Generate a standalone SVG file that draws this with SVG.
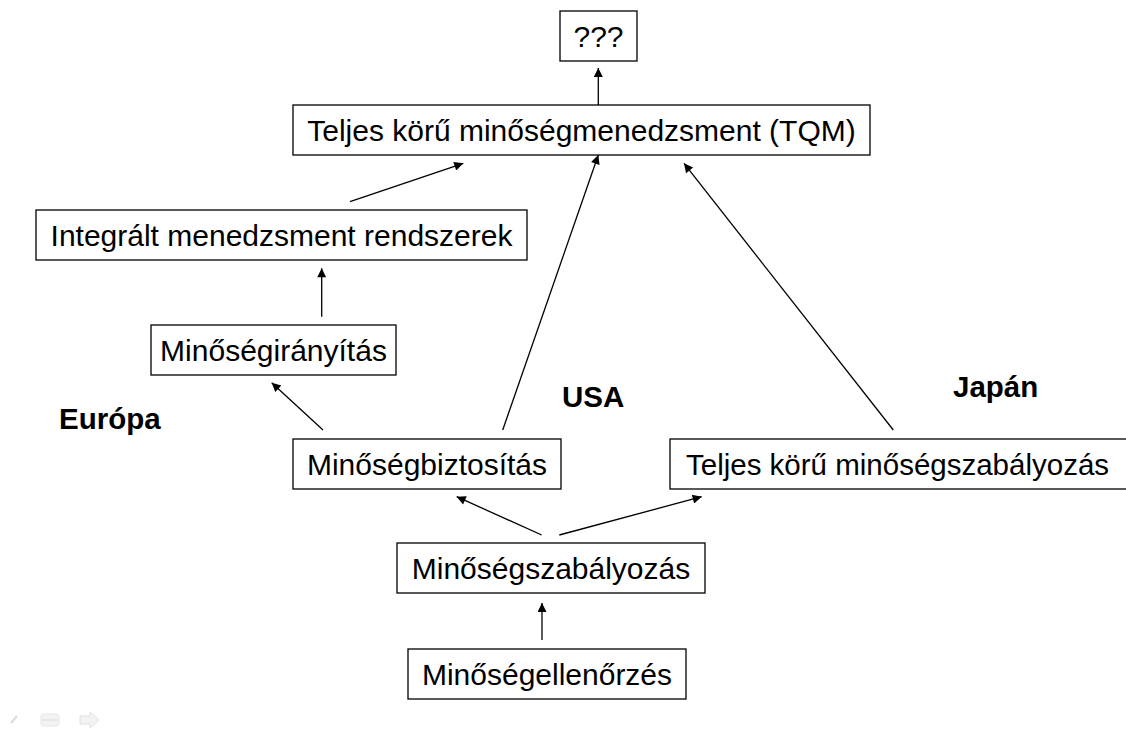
<svg xmlns="http://www.w3.org/2000/svg" width="1126" height="737" viewBox="0 0 1126 737">
<style>
.box{fill:#fff;stroke:#000;stroke-width:1.3}
.t{font-family:"Liberation Sans",Arial,sans-serif;font-size:30px;fill:#000}
.c{text-anchor:middle}
.lbl{font-family:"Liberation Sans",Arial,sans-serif;font-size:29.5px;font-weight:bold;fill:#000}
.edge{stroke:#000;stroke-width:1.3;fill:none;marker-end:url(#ah)}
</style>
<defs>
<marker id="ah" viewBox="0 0 10 10" refX="10" refY="5" markerUnits="userSpaceOnUse" markerWidth="12" markerHeight="9" orient="auto">
<path d="M0,0 L10,5 L0,10 z" fill="#000"/>
</marker>
</defs>
<rect width="1126" height="737" fill="#fff"/>
<g id="connectors">
<line class="edge" x1="542" y1="640" x2="542" y2="603"/>
<line class="edge" x1="541.7" y1="535" x2="456.7" y2="496.7"/>
<line class="edge" x1="559.3" y1="535" x2="701.7" y2="496.7"/>
<line class="edge" x1="323" y1="430" x2="271.7" y2="382.7"/>
<line class="edge" x1="502.7" y1="430" x2="598.3" y2="155"/>
<line class="edge" x1="893.3" y1="430" x2="684" y2="163.3"/>
<line class="edge" x1="321.7" y1="316.7" x2="321.7" y2="268.3"/>
<line class="edge" x1="350" y1="201.7" x2="463.3" y2="163.3"/>
<line class="edge" x1="598.3" y1="105" x2="598.3" y2="68"/>
</g>
<g id="n-q"><rect class="box" x="560" y="11" width="77" height="50"/><text class="t c" x="598.5" y="46.7">???</text></g>
<g id="n-tqm"><rect class="box" x="293" y="105" width="577" height="50"/><text class="t c" x="581.5" y="140.7">Teljes körű minőségmenedzsment (TQM)</text></g>
<g id="n-imr"><rect class="box" x="36" y="210" width="491" height="50"/><text class="t c" x="281.5" y="245.7">Integrált menedzsment rendszerek</text></g>
<g id="n-mi"><rect class="box" x="151" y="325" width="245" height="50"/><text class="t c" x="273.5" y="360.7">Minőségirányítás</text></g>
<g id="n-mb"><rect class="box" x="293" y="439" width="268" height="50"/><text class="t c" x="427" y="474.7">Minőségbiztosítás</text></g>
<g id="n-tkm"><rect class="box" x="670" y="439" width="470" height="50"/><text class="t" x="686" y="474.7" style="font-size:29.5px">Teljes körű minőségszabályozás</text></g>
<g id="n-msz"><rect class="box" x="397" y="543" width="308" height="50"/><text class="t c" x="551" y="578.7">Minőségszabályozás</text></g>
<g id="n-me"><rect class="box" x="408" y="649" width="278" height="50"/><text class="t c" x="547" y="684.7">Minőségellenőrzés</text></g>
<g id="labels">
<text class="lbl" x="59" y="429">Európa</text>
<text class="lbl" x="562" y="407">USA</text>
<text class="lbl" x="953" y="397">Japán</text>
</g>
<g id="controls" opacity="0.35">
<line x1="11" y1="723" x2="17" y2="716" stroke="#999" stroke-width="2"/>
<rect x="41" y="714" width="18" height="12" rx="2" fill="#ddd" stroke="#bbb"/>
<line x1="42" y1="720" x2="58" y2="720" stroke="#999"/>
<path d="M80,716 L90,716 L90,712 L99,720 L90,728 L90,724 L80,724 z" fill="#ddd" stroke="#aaa"/>
</g>
</svg>
